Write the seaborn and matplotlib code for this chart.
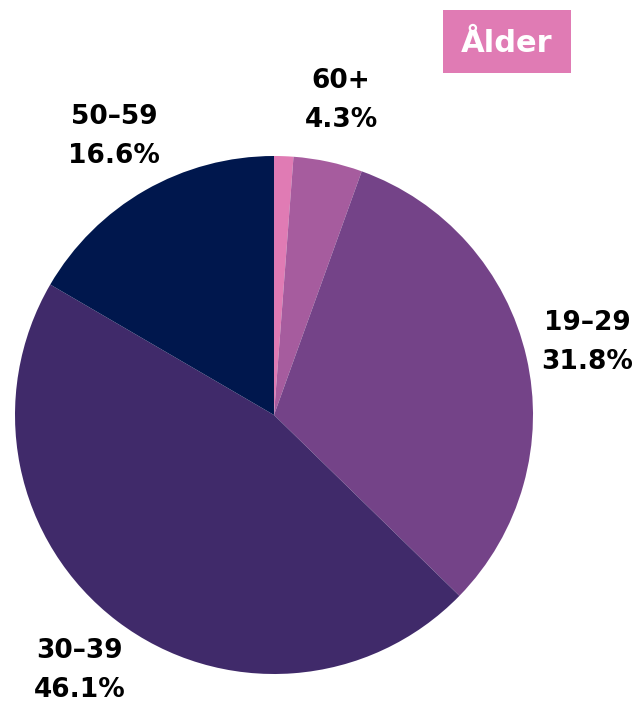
import matplotlib
matplotlib.use("Agg")
import matplotlib.pyplot as plt
from matplotlib.patches import Rectangle
import seaborn as sns

categories = ["<19", "60+", "19–29", "30–39", "50–59"]
values = [1.2, 4.3, 31.8, 46.1, 16.6]
show_label = [False, True, True, True, True]
colors = ["#E07BB4", "#A65C9E", "#744388", "#402A6A", "#00174D"]
title = "Ålder"

sns.set_theme(style="white")
plt.rcParams['font.family'] = ['DejaVu Sans']

W, H = 644, 702
fig = plt.figure(figsize=(W / 100, H / 100), dpi=100)
cx, cy, r = 274, 415, 259
ax = fig.add_axes([(cx - r) / W, (H - cy - r) / H, 2 * r / W, 2 * r / H])

labels = [f"{c}\n{v:.1f}%" if s else "" for c, v, s in zip(categories, values, show_label)]
wedges, texts = ax.pie(values, colors=colors, startangle=90, counterclock=False,
                       labels=labels, labeldistance=1.24, radius=1,
                       wedgeprops=dict(linewidth=0),
                       textprops=dict(fontsize=19, fontweight='heavy', color='black',
                                      ha='center', va='center', linespacing=1.65))
ax.set_xlim(-1, 1)
ax.set_ylim(-1, 1)
ax.set_aspect('equal')
ax.axis('off')

# title badge
bx0, by0, bx1, by1 = 443, 10, 571, 73
fig.patches.append(Rectangle((bx0 / W, 1 - by1 / H), (bx1 - bx0) / W, (by1 - by0) / H,
                             transform=fig.transFigure, facecolor='#E07BB4',
                             edgecolor='none', zorder=0))
fig.text((bx0 + bx1) / 2 / W, 1 - 44 / H, title, ha='center', va='center', color='white',
         fontsize=22, fontweight='heavy')

fig.savefig("out.png", dpi=100)
